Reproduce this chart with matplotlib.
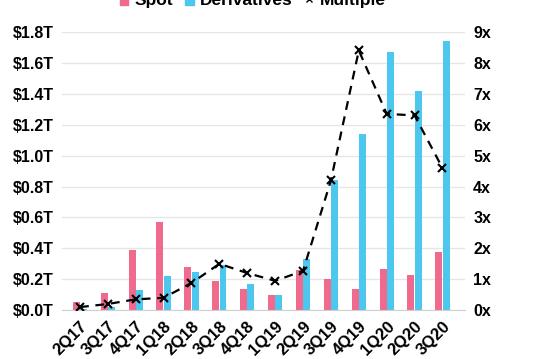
import numpy as np
import matplotlib.pyplot as plt
from matplotlib.lines import Line2D
from matplotlib.patches import Patch

plt.rcParams['font.family'] = ['Liberation Sans', 'DejaVu Sans']
plt.rcParams['font.weight'] = 'bold'

quarters = ["2Q17", "3Q17", "4Q17", "1Q18", "2Q18", "3Q18", "4Q18",
            "1Q19", "2Q19", "3Q19", "4Q19", "1Q20", "2Q20", "3Q20"]
spot = [0.05, 0.11, 0.39, 0.57, 0.28, 0.19, 0.14, 0.10, 0.26, 0.20, 0.135, 0.265, 0.225, 0.375]
derivs = [0.005, 0.02, 0.13, 0.22, 0.245, 0.29, 0.17, 0.10, 0.33, 0.84, 1.14, 1.67, 1.42, 1.74]
multiple = [0.1, 0.2, 0.35, 0.4, 0.88, 1.5, 1.2, 0.95, 1.27, 4.2, 8.4, 6.35, 6.3, 4.6]

pink = "#F06A8E"
blue = "#4CC8EE"

fig = plt.figure(figsize=(5.33, 3.59), dpi=100)
ax = fig.add_axes([0.116, 0.136, 0.756, 0.775])
x = np.arange(len(quarters))
w = 0.25
ax.bar(x - 0.13, spot, w, color=pink, zorder=2)
ax.bar(x + 0.13, derivs, w, color=blue, zorder=2)
ax.set_ylim(0, 1.8)
ax.set_xlim(-0.65, 13.8)
ax.set_yticks(np.arange(0, 1.81, 0.2))
ax.set_yticklabels([f"${v:.1f}T" for v in np.arange(0, 1.81, 0.2)], fontsize=11.5)
ax.set_xticks(x)
ax.set_xticklabels(quarters, rotation=45, ha='right', rotation_mode='anchor', fontsize=12)
ax.grid(axis='y', color='#E6E6E6', linewidth=1, zorder=0)
for s in ['top', 'right', 'left']:
    ax.spines[s].set_visible(False)
ax.spines['bottom'].set_color('#D0D0D0')
ax.tick_params(length=0, pad=6)

ax2 = ax.twinx()
ax2.plot(x, multiple, color='black', linestyle=(0, (4, 3)), linewidth=1.6,
         marker='x', markersize=6, markeredgewidth=1.5, zorder=3)
ax2.set_ylim(0, 9)
ax2.set_yticks(range(10))
ax2.set_yticklabels([f"{i}x" for i in range(10)], fontsize=11.5)
for s in ['top', 'right', 'left', 'bottom']:
    ax2.spines[s].set_visible(False)
ax2.tick_params(length=0, pad=6)

handles = [Patch(color=pink, label='Spot'),
           Patch(color=blue, label='Derivatives'),
           Line2D([0], [0], color='black', linestyle=(0, (2, 2)), marker='x',
                  markersize=5, label='Multiple')]
fig.legend(handles=handles, loc='center', bbox_to_anchor=(0.474, 0.998), ncol=3,
           frameon=False, fontsize=12.5, handlelength=0.5, handletextpad=0.35,
           columnspacing=0.7)

fig.savefig("out.png", dpi=100)
